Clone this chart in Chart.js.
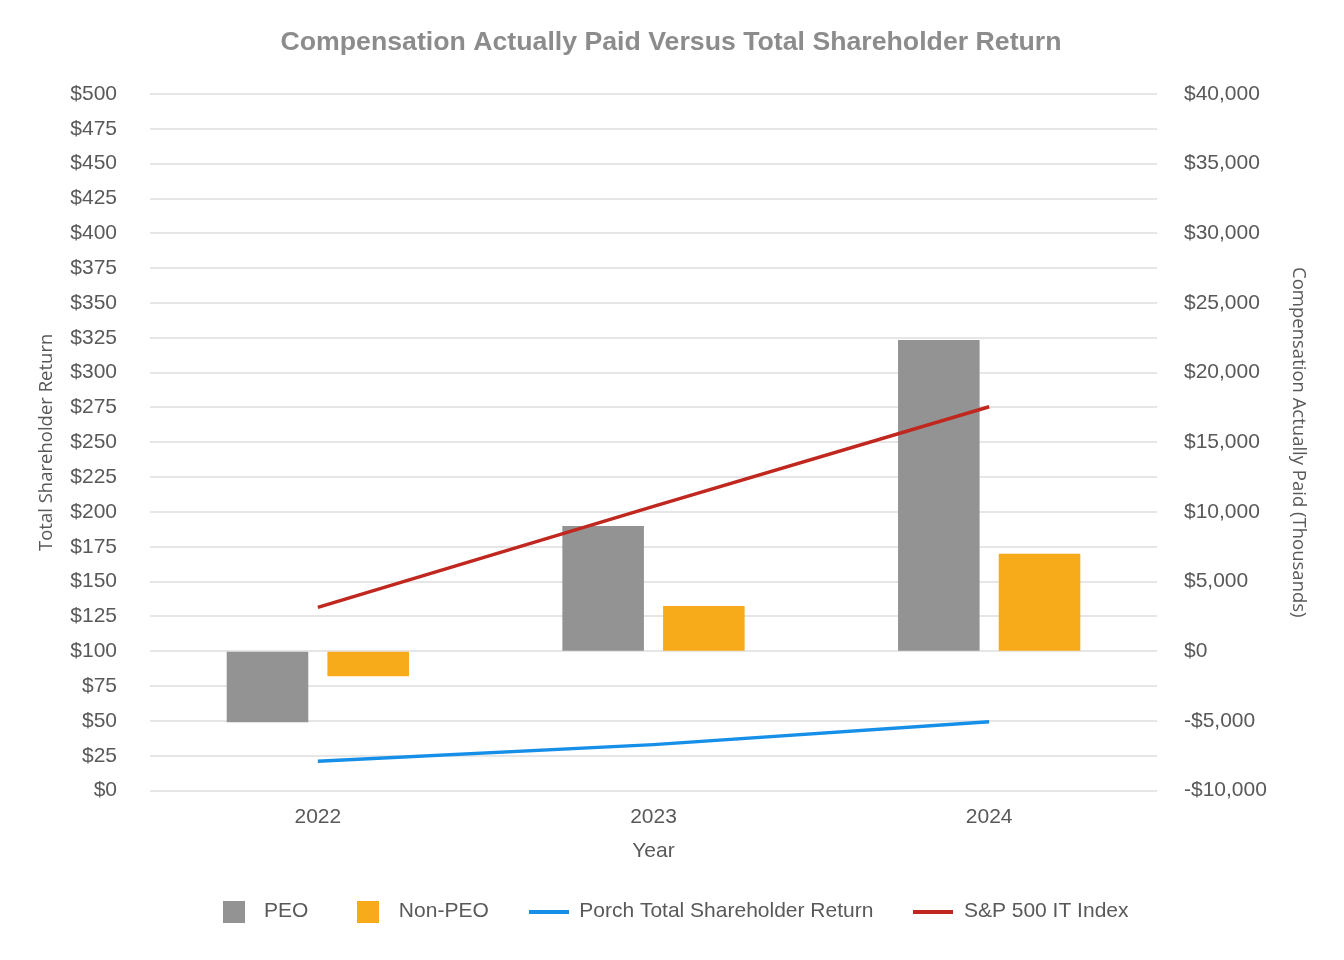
<!DOCTYPE html>
<html>
<head>
  <meta charset="UTF-8">
  <title>Compensation Actually Paid Versus Total Shareholder Return</title>
  <script src="https://cdn.jsdelivr.net/npm/chart.js"></script>
  <style>
    html, body { margin: 0; padding: 0; background: #fff; }
    #wrap { width: 1344px; height: 960px; }
  </style>
</head>
<body>
  <div id="wrap"><canvas id="chart"></canvas></div>

  <script>
    // values
    const years = ['2022', '2023', '2024'];
    const peoCap = [-5100, 9000, 22350];        // thousands, right axis
    const nonPeoCap = [-1800, 3250, 7000];      // thousands, right axis
    const porchTsr = [21, 33, 49.5];            // left axis
    const spItTsr = [131.5, 204, 275.5];        // left axis

    const tsrTicks = { min: 0, max: 500, step: 25 };
    const capTicks = { min: -10000, max: 40000, step: 5000 };

    const GRAY = '#939393';
    const ORANGE = '#f8ab1a';
    const BLUE = '#168fe9';
    const RED = '#c0271f';
    const TEXT = '#595959';

    // little canvases used as legend markers (by dataset index)
    function boxMarker(color) {
      const c = document.createElement('canvas');
      c.width = 22; c.height = 22;
      const g = c.getContext('2d');
      g.fillStyle = color;
      g.fillRect(0, 0, 22, 22);
      return c;
    }
    function lineMarker(color) {
      const c = document.createElement('canvas');
      c.width = 40; c.height = 4;
      const g = c.getContext('2d');
      g.fillStyle = color;
      g.fillRect(0, 0, 40, 4);
      return c;
    }
    const markers = [boxMarker(GRAY), boxMarker(ORANGE), lineMarker(BLUE), lineMarker(RED)];

    const money = v => (v < 0 ? '-$' : '$') + Math.abs(v).toLocaleString('en-US');

    new Chart(document.getElementById('chart'), {
      type: 'bar',
      data: {
        labels: years,
        datasets: [
          {
            label: 'PEO',
            data: peoCap,
            backgroundColor: GRAY,
            yAxisID: 'y1',
            order: 2
          },
          {
            label: 'Non-PEO',
            data: nonPeoCap,
            backgroundColor: ORANGE,
            yAxisID: 'y1',
            order: 2
          },
          {
            type: 'line',
            label: 'Porch Total Shareholder Return',
            data: porchTsr,
            borderColor: BLUE,
            backgroundColor: BLUE,
            borderWidth: 3.5,
            pointRadius: 0,
            tension: 0,
            yAxisID: 'y',
            order: 1
          },
          {
            type: 'line',
            label: 'S&P 500 IT Index',
            data: spItTsr,
            borderColor: RED,
            backgroundColor: RED,
            borderWidth: 3.5,
            pointRadius: 0,
            tension: 0,
            yAxisID: 'y',
            order: 1
          }
        ]
      },
      options: {
        responsive: true,
        maintainAspectRatio: false,
        animation: false,
        categoryPercentage: 0.6,
        barPercentage: 0.81,
        layout: { padding: { left: 20, right: 22, top: 10, bottom: 28 } },
        plugins: {
          title: {
            display: true,
            text: 'Compensation Actually Paid Versus Total Shareholder Return',
            color: '#8c8c8c',
            font: { family: 'Liberation Sans', size: 26.7, weight: 'bold' },
            padding: { top: 17, bottom: 35 }
          },
          legend: {
            position: 'bottom',
            labels: {
              color: TEXT,
              font: { family: 'Liberation Sans', size: 21 },
              usePointStyle: true,
              pointStyleWidth: 40,
              padding: 40,
              sort: (a, b) => a.datasetIndex - b.datasetIndex,
              generateLabels(chart) {
                const items = Chart.defaults.plugins.legend.labels.generateLabels(chart);
                items.forEach(it => { it.pointStyle = markers[it.datasetIndex]; });
                return items;
              }
            }
          },
          tooltip: { enabled: false }
        },
        scales: {
          x: {
            grid: { display: false },
            border: { display: false },
            ticks: { color: TEXT, font: { family: 'Liberation Sans', size: 21 }, padding: 6 },
            title: {
              display: true,
              text: 'Year',
              color: TEXT,
              font: { family: 'Liberation Sans', size: 21 },
              padding: { top: 3, bottom: -3 }
            }
          },
          y: {
            position: 'left',
            min: tsrTicks.min,
            max: tsrTicks.max,
            afterFit: s => { s.width = 130; },
            grid: { color: '#e6e6e6', lineWidth: 2, drawTicks: false },
            border: { display: false },
            ticks: {
              stepSize: tsrTicks.step,
              color: TEXT,
              font: { family: 'Liberation Sans', size: 21 },
              padding: 33,
              callback: v => money(v)
            },
            title: {
              display: true,
              text: 'Total Shareholder Return',
              color: TEXT,
              font: { family: 'Open Sans', size: 18.5 },
              padding: { top: 16, bottom: 0 }
            }
          },
          y1: {
            position: 'right',
            min: capTicks.min,
            max: capTicks.max,
            afterFit: s => { s.width = 165; },
            grid: { drawOnChartArea: false, drawTicks: false },
            border: { display: false },
            ticks: {
              stepSize: capTicks.step,
              color: TEXT,
              font: { family: 'Liberation Sans', size: 21 },
              padding: 27,
              callback: v => money(v)
            },
            title: {
              display: true,
              text: 'Compensation Actually Paid (Thousands)',
              color: TEXT,
              font: { family: 'Open Sans', size: 18.5 },
              padding: { top: 13, bottom: 0 }
            }
          }
        }
      }
    });
  </script>
</body>
</html>
